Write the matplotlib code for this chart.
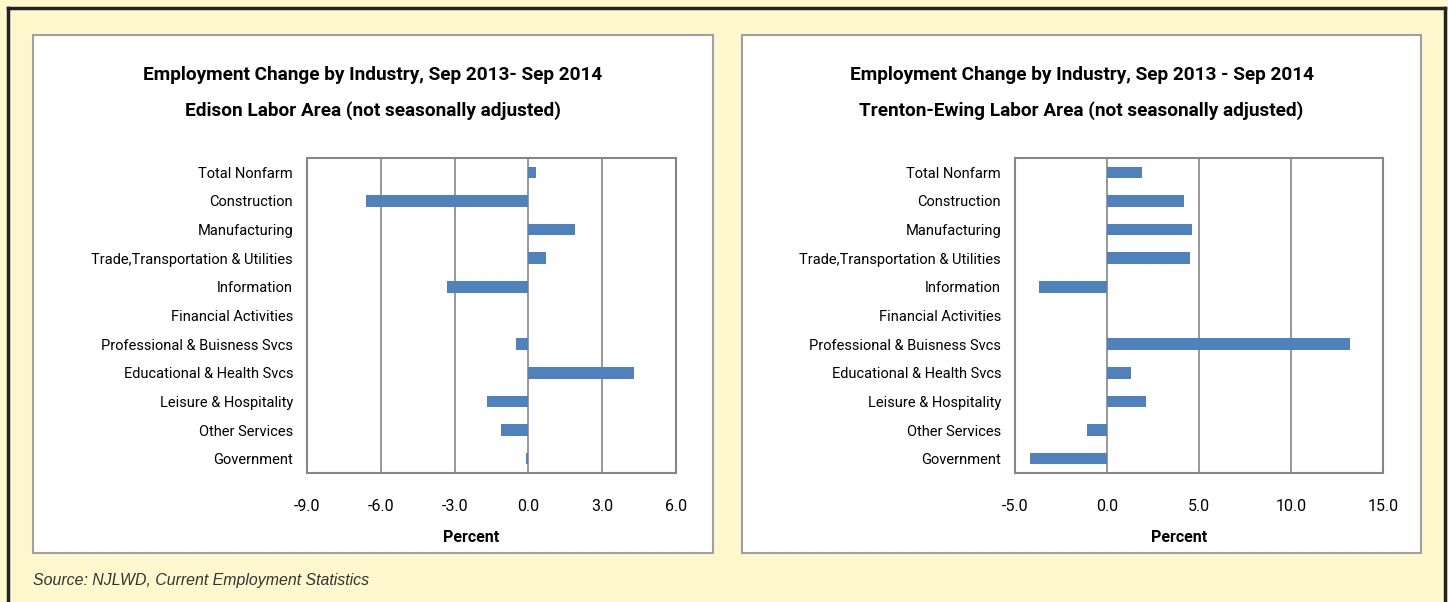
#!/usr/bin/env python3

import matplotlib
matplotlib.use("Agg")
import matplotlib.pyplot as plt
from matplotlib.patches import Rectangle
from matplotlib.lines import Line2D
import numpy as np


industries = ["Total Nonfarm", "Construction", "Manufacturing",
              "Trade,Transportation & Utilities", "Information",
              "Financial Activities", "Professional & Buisness Svcs",
              "Educational & Health Svcs", "Leisure & Hospitality",
              "Other Services", "Government"]

edison = [0.3, -6.6, 1.9, 0.7, -3.3, 0.0, -0.5, 4.3, -1.7, -1.1, -0.1]
trenton = [1.9, 4.2, 4.6, 4.5, -3.7, 0.0, 13.2, 1.3, 2.1, -1.1, -4.2]

edison_ticks = [-9.0, -6.0, -3.0, 0.0, 3.0, 6.0]
trenton_ticks = [-5.0, 0.0, 5.0, 10.0, 15.0]

titles = ["Employment Change by Industry, Sep 2013- Sep 2014\nEdison Labor Area (not seasonally adjusted)",
          "Employment Change by Industry, Sep 2013 - Sep 2014\nTrenton-Ewing Labor Area (not seasonally adjusted)"]

W, H = 1448, 602
FONT = ["Roboto", "DejaVu Sans"]
BAR = "#4F81BD"
GRID = "#868686"


def px(x, y, w, h):
    # pixel box (top-left origin) -> figure fraction
    return [x / W, 1 - (y + h) / H, w / W, h / H]


fig = plt.figure(figsize=(W / 100, H / 100), dpi=100)
fig.patch.set_facecolor("#FFF8CF")

# outer dark frame
for xs, ys in [((8, 8), (8, 602)), ((8, 1445), (8, 8)), ((1445, 1445), (8, 602))]:
    fig.add_artist(Line2D([x / W for x in xs], [1 - y / H for y in ys],
                          color="#222222", lw=2.5, transform=fig.transFigure, zorder=-2))

panels = [(33, 35, 680, 518), (742, 35, 679, 518)]
axes_boxes = [(307, 158, 369, 315), (1015, 158, 368, 315)]
datasets = [(edison, edison_ticks), (trenton, trenton_ticks)]

for (panel, box, (vals, ticks), title) in zip(panels, axes_boxes, datasets, titles):
    fx, fy, fw, fh = px(*panel)
    fig.add_artist(Rectangle((fx, fy), fw, fh, transform=fig.transFigure,
                             facecolor="white", edgecolor="#A0A0A0", lw=1.5, zorder=-1))

    ax = fig.add_axes(px(*box))
    y = np.arange(len(industries))
    ax.barh(y, vals, height=0.4, color=BAR, zorder=3)
    ax.set_ylim(len(industries) - 0.5, -0.5)
    ax.set_yticks(y)
    ax.set_yticklabels(industries, family=FONT, fontsize=10.5)
    ax.set_xlim(ticks[0], ticks[-1])
    ax.set_xticks(ticks)
    ax.set_xticklabels([f"{t:.1f}" for t in ticks], family=FONT, fontsize=11.5)
    ax.tick_params(axis="y", length=0, pad=10)
    ax.tick_params(axis="x", length=0, pad=18.5)
    ax.grid(axis="x", color=GRID, lw=1.2, zorder=1)
    for s in ax.spines.values():
        s.set_color(GRID)
        s.set_linewidth(1.5)
    ax.set_xlabel("Percent", family=FONT, fontsize=11.5, fontweight="bold")
    ax.xaxis.set_label_coords(0.5 - 20 / box[2], -57 / box[3])

    cx = (panel[0] + panel[2] / 2) / W
    fig.text(cx, 1 - 93 / H, title, ha="center", va="center", family=FONT,
             fontsize=13.7, fontweight="bold", linespacing=2.2)

fig.text(33 / W, 1 - 581 / H, "Source: NJLWD, Current Employment Statistics",
         ha="left", va="center", fontsize=11.4, style="italic",
         family=["Liberation Sans", "DejaVu Sans"], color="#333333")

fig.savefig("out.png", dpi=100, facecolor=fig.get_facecolor())
